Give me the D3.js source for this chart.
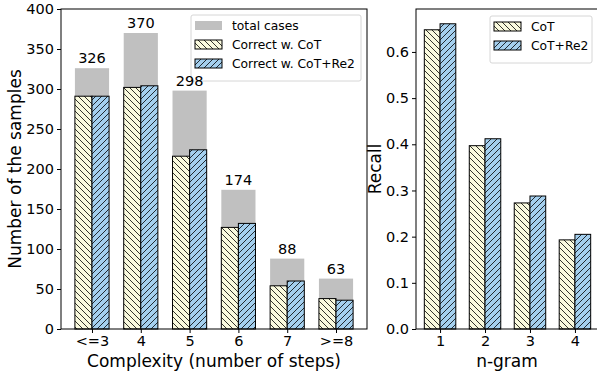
<!DOCTYPE html>
<html>
<head>
<meta charset="utf-8">
<script src="https://cdn.jsdelivr.net/npm/d3@7"></script>
<style>
    body { margin: 0; background: #fff; }
    svg text { font-family: "DejaVu Sans", sans-serif; fill: #000; }
</style>
</head>
<body>
<div id="vis"></div>
<script>
// left panel: complexity vs. number of samples
var categories = ['<=3', '4', '5', '6', '7', '>=8'];
var totalCases = [326, 370, 298, 174, 88, 63];
var correctCoT = [291, 302, 216, 127, 54, 38];
var correctRe2 = [291, 304, 224, 132, 60, 36];
var leftTicks = [0, 50, 100, 150, 200, 250, 300, 350, 400];

// right panel: n-gram recall
var ngrams = ['1', '2', '3', '4'];
var recallCoT = [0.648, 0.397, 0.273, 0.193];
var recallRe2 = [0.661, 0.412, 0.288, 0.205];
var rightTicks = [0.0, 0.1, 0.2, 0.3, 0.4, 0.5, 0.6];

var width = 597;
var height = 375;
var plotTop = 9, plotBottom = 329;
var barW = 0.35;

var colCoT = '#fafade';
var colRe2 = '#a4cfee';
var colTotal = '#c0c0c0';

var svg = d3.select('#vis')
    .append('svg')
    .attr('width', width)
    .attr('height', height);

// hatch patterns
var defs = svg.append('defs');
var makeHatch = function(id, bg, back) {
    var p = defs.append('pattern')
        .attr('id', id)
        .attr('patternUnits', 'userSpaceOnUse')
        .attr('width', 6)
        .attr('height', 6);
    p.append('rect').attr('width', 6).attr('height', 6).attr('fill', bg);
    var path = back
        ? 'M-1,-1 L7,7 M-4,2 L2,8 M4,-2 L8,2'
        : 'M-1,7 L7,-1 M-4,4 L2,-2 M4,8 L8,4';
    p.append('path').attr('d', path)
        .attr('stroke', '#000')
        .attr('stroke-width', 0.8);
};
makeHatch('hCoT', colCoT, true);
makeHatch('hRe2', colRe2, false);

// ---------- left panel ----------
var xL = d3.scaleLinear().domain([-0.635, 5.635]).range([61, 367]);
var yL = d3.scaleLinear().domain([0, 400]).range([plotBottom, plotTop]);

var gL = svg.append('g');

gL.selectAll('.total')
    .data(totalCases)
    .enter().append('rect')
    .attr('class', 'total')
    .attr('x', (d, i) => xL(i - barW))
    .attr('width', (d, i) => xL(i + barW) - xL(i - barW))
    .attr('y', d => yL(d))
    .attr('height', d => yL(0) - yL(d))
    .attr('fill', colTotal);

gL.selectAll('.cot')
    .data(correctCoT)
    .enter().append('rect')
    .attr('x', (d, i) => xL(i - barW))
    .attr('width', (d, i) => xL(i) - xL(i - barW))
    .attr('y', d => yL(d))
    .attr('height', d => yL(0) - yL(d))
    .attr('fill', 'url(#hCoT)')
    .attr('stroke', '#000')
    .attr('stroke-width', 1);

gL.selectAll('.re2')
    .data(correctRe2)
    .enter().append('rect')
    .attr('x', (d, i) => xL(i))
    .attr('width', (d, i) => xL(i + barW) - xL(i))
    .attr('y', d => yL(d))
    .attr('height', d => yL(0) - yL(d))
    .attr('fill', 'url(#hRe2)')
    .attr('stroke', '#000')
    .attr('stroke-width', 1);

svg.append('g')
    .attr('transform', 'translate(' + xL.range()[0] + ',0)')
    .call(d3.axisLeft(yL).tickValues(leftTicks).tickSize(4).tickPadding(3));
svg.append('g')
    .attr('transform', 'translate(0,' + plotBottom + ')')
    .call(d3.axisBottom(xL).tickValues(d3.range(categories.length))
        .tickFormat(i => categories[i]).tickSize(4).tickPadding(3));

// spines
gL.append('rect')
    .attr('x', xL.range()[0]).attr('y', plotTop)
    .attr('width', xL.range()[1] - xL.range()[0])
    .attr('height', plotBottom - plotTop)
    .attr('fill', 'none').attr('stroke', '#000').attr('stroke-width', 1);

svg.append('text')
    .attr('transform', 'translate(21,' + ((plotTop + plotBottom) / 2) + ') rotate(-90)')
    .attr('text-anchor', 'middle')
    .style('font-size', '17px')
    .text('Number of the samples');

svg.append('text')
    .attr('x', (xL.range()[0] + xL.range()[1]) / 2)
    .attr('y', 367)
    .attr('text-anchor', 'middle')
    .style('font-size', '17px')
    .text('Complexity (number of steps)');

// ---------- right panel ----------
var xR = d3.scaleLinear().domain([0.465, 4.535]).range([416, 599]);
var yR = d3.scaleLinear().domain([0, 0.693]).range([plotBottom, plotTop]);

var gR = svg.append('g');

gR.selectAll('.rcot')
    .data(recallCoT)
    .enter().append('rect')
    .attr('x', (d, i) => xR(i + 1 - barW))
    .attr('width', (d, i) => xR(i + 1) - xR(i + 1 - barW))
    .attr('y', d => yR(d))
    .attr('height', d => yR(0) - yR(d))
    .attr('fill', 'url(#hCoT)')
    .attr('stroke', '#000')
    .attr('stroke-width', 1);

gR.selectAll('.rre2')
    .data(recallRe2)
    .enter().append('rect')
    .attr('x', (d, i) => xR(i + 1))
    .attr('width', (d, i) => xR(i + 1 + barW) - xR(i + 1))
    .attr('y', d => yR(d))
    .attr('height', d => yR(0) - yR(d))
    .attr('fill', 'url(#hRe2)')
    .attr('stroke', '#000')
    .attr('stroke-width', 1);

svg.append('g')
    .attr('transform', 'translate(' + xR.range()[0] + ',0)')
    .call(d3.axisLeft(yR).tickValues(rightTicks).tickFormat(d3.format('.1f')).tickSize(4).tickPadding(3));
svg.append('g')
    .attr('transform', 'translate(0,' + plotBottom + ')')
    .call(d3.axisBottom(xR).tickValues([1, 2, 3, 4])
        .tickFormat(d => ngrams[d - 1]).tickSize(4).tickPadding(3));

gR.append('rect')
    .attr('x', xR.range()[0]).attr('y', plotTop)
    .attr('width', xR.range()[1] - xR.range()[0])
    .attr('height', plotBottom - plotTop)
    .attr('fill', 'none').attr('stroke', '#000').attr('stroke-width', 1);

svg.append('text')
    .attr('transform', 'translate(381,' + ((plotTop + plotBottom) / 2) + ') rotate(-90)')
    .attr('text-anchor', 'middle')
    .style('font-size', '17px')
    .text('Recall');

svg.append('text')
    .attr('x', 507)
    .attr('y', 367)
    .attr('text-anchor', 'middle')
    .style('font-size', '17px')
    .text('n-gram');

// axis styling
svg.selectAll('.domain').remove();
svg.selectAll('.tick line').attr('stroke', '#000');
svg.selectAll('.tick text').style('font-size', '14.5px').attr('fill', '#000');

// ---------- legends ----------
var drawLegend = function(x, y, w, items) {
    var lg = svg.append('g').attr('transform', 'translate(' + x + ',' + y + ')');
    lg.append('rect')
        .attr('width', w).attr('height', items.length * 19 + 9)
        .attr('rx', 2)
        .attr('fill', '#fff').attr('fill-opacity', 0.8)
        .attr('stroke', '#d6d6d6');
    items.forEach(function(it, i) {
        lg.append('rect')
            .attr('x', 4).attr('y', 6 + i * 19)
            .attr('width', 27).attr('height', 9)
            .attr('fill', it.fill)
            .attr('stroke', it.stroke ? '#000' : 'none')
            .attr('stroke-width', 1);
        lg.append('text')
            .attr('x', 41).attr('y', 15 + i * 19)
            .style('font-size', '12.3px')
            .text(it.label);
    });
};

drawLegend(191, 15, 170, [
    {label: 'total cases', fill: colTotal, stroke: false},
    {label: 'Correct w. CoT', fill: 'url(#hCoT)', stroke: true},
    {label: 'Correct w. CoT+Re2', fill: 'url(#hRe2)', stroke: true}
]);
drawLegend(490, 16, 102, [
    {label: 'CoT', fill: 'url(#hCoT)', stroke: true},
    {label: 'CoT+Re2', fill: 'url(#hRe2)', stroke: true}
]);

// value labels drawn last so they stay on top of the legend
svg.append('g').selectAll('.val')
    .data(totalCases)
    .enter().append('text')
    .attr('x', (d, i) => xL(i))
    .attr('y', d => yL(d) - 5)
    .attr('text-anchor', 'middle')
    .style('font-size', '14.5px')
    .text(d => d);
</script>
</body>
</html>
